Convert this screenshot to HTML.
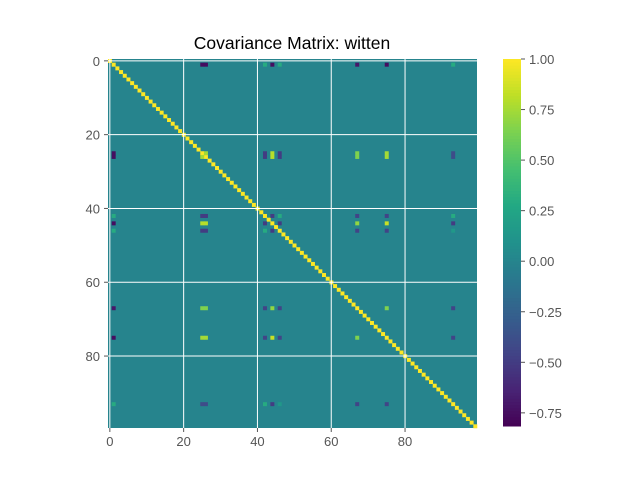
<!DOCTYPE html>
<html><head><meta charset="utf-8"><style>
body{margin:0;background:#fff;font-family:"Liberation Sans",sans-serif}
svg text{font-family:"Liberation Sans",sans-serif}
</style></head><body>
<svg id="fig" width="640" height="480">
<rect width="640" height="480" fill="#fff"/>
<text x="292" y="49" text-anchor="middle" font-size="17.5" fill="#000">Covariance Matrix: witten</text>
<g id="heat"></g>
<g id="axes"></g>
<g id="cbar"></g>
</svg>
<script>
const N = 100;
const vmin = -0.815, vmax = 1.0;
const background = 0.0;
const specialVars = [1, 25, 26, 42, 44, 46, 67, 75, 93];
// pair covariance values [i, j, value]
const pairs = [
 [1,25,-0.75],[1,26,-0.75],[1,42,0.3],[1,44,-0.75],[1,46,0.3],[1,67,-0.7],[1,75,-0.75],[1,93,0.3],
 [25,26,0.75],[25,42,-0.5],[25,44,0.8],[25,46,-0.5],[25,67,0.65],[25,75,0.75],[25,93,-0.4],
 [26,42,-0.5],[26,44,0.8],[26,46,-0.5],[26,67,0.65],[26,75,0.75],[26,93,-0.4],
 [42,44,-0.5],[42,46,0.3],[42,67,-0.45],[42,75,-0.45],[42,93,0.3],
 [44,46,-0.5],[44,67,0.7],[44,75,0.85],[44,93,-0.5],
 [46,67,-0.45],[46,75,-0.45],[46,93,0.15],
 [67,75,0.65],[67,93,-0.45],[75,93,-0.45]
];
const diagValue = 1.0;
const xTicks = [0, 20, 40, 60, 80];
const yTicks = [0, 20, 40, 60, 80];
const cbTicks = [1.00, 0.75, 0.50, 0.25, 0.00, -0.25, -0.50, -0.75];

const VIR = [[68,1,84],[72,36,117],[65,68,135],[53,95,141],[42,120,142],[33,145,140],[34,168,132],[68,191,112],[122,209,81],[189,223,38],[253,231,37]];
function viridis(t){t=Math.max(0,Math.min(1,t));const p=t*(VIR.length-1),i=Math.min(Math.floor(p),VIR.length-2),f=p-i;
 const c=VIR[i].map((v,k)=>Math.round(v+(VIR[i+1][k]-v)*f));return `rgb(${c[0]},${c[1]},${c[2]})`;}
function col(v){return viridis((v-vmin)/(vmax-vmin));}
const X0=108, Y0=59, W=369, H=369, cw=W/N, ch=H/N;
const xs=i=>X0+i*cw, ys=i=>Y0+i*ch;
const NS="http://www.w3.org/2000/svg";
function mk(tag,attrs,parent){const e=document.createElementNS(NS,tag);for(const k in attrs)e.setAttribute(k,attrs[k]);parent.appendChild(e);return e;}
const heat=document.getElementById('heat'), axes=document.getElementById('axes'), cbar=document.getElementById('cbar');
const bg=mk('rect',{x:X0,y:Y0,width:W,height:H,fill:col(background)},heat);


function cell(i,j,v){const r=mk('rect',{x:xs(j),y:ys(i),width:cw+0.3,height:ch+0.3,fill:col(v)},heat);
 
 }
for(let i=0;i<N;i++) cell(i,i,diagValue);
pairs.forEach(([a,b,v])=>{cell(a,b,v);cell(b,a,v);});
xTicks.forEach(t=>{const x=xs(t+0.5);
 const g=mk('line',{x1:x,y1:Y0,x2:x,y2:Y0+H,stroke:'#fff','stroke-width':1},axes);
 
 
 mk('line',{x1:x,y1:Y0+H,x2:x,y2:Y0+H+4,stroke:'#555'},axes);
 const tx=mk('text',{x:x,y:Y0+H+18,'text-anchor':'middle','font-size':13,fill:'#555'},axes);tx.textContent=t;
 
 });
yTicks.forEach(t=>{const y=ys(t+0.5);
 const g=mk('line',{x1:X0,y1:y,x2:X0+W,y2:y,stroke:'#fff','stroke-width':1},axes);
 
 
 mk('line',{x1:X0-4,y1:y,x2:X0,y2:y,stroke:'#555'},axes);
 const tx=mk('text',{x:X0-8,y:y+5,'text-anchor':'end','font-size':13,fill:'#555'},axes);tx.textContent=t;
 
 });
const CX=503, CW=18, CY0=59, CY1=426;
const cy=v=>CY1-(v-vmin)/(vmax-vmin)*(CY1-CY0);
for(let k=0;k<120;k++){const a=vmin+(vmax-vmin)*k/120,b=vmin+(vmax-vmin)*(k+1)/120;
 mk('rect',{x:CX,y:cy(b),width:CW,height:cy(a)-cy(b)+0.5,fill:col((a+b)/2)},cbar);}
cbTicks.forEach(t=>{const y=cy(t);
 mk('line',{x1:CX+CW,y1:y,x2:CX+CW+4,y2:y,stroke:'#555'},cbar);
 const tx=mk('text',{x:CX+CW+8,y:y+5,'font-size':13,fill:'#555'},cbar);tx.textContent=t.toFixed(2).replace('-','\u2212');
 
 });
</script>
</body></html>
